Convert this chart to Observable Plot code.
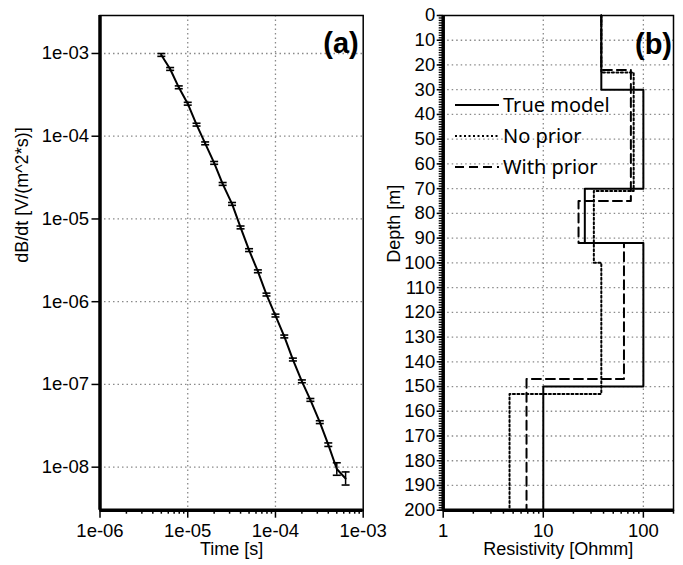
<!DOCTYPE html>
<html>
<head>
<meta charset="utf-8">
<script src="https://cdn.jsdelivr.net/npm/d3@7"></script>
<script src="https://cdn.jsdelivr.net/npm/@observablehq/plot@0.6"></script>
<style>
  body { margin: 0; background: white; }
  #wrap { position: relative; width: 683px; height: 565px; background: white; font-family: "Liberation Sans", Arial, sans-serif; }
  #a, #b, #legend { position: absolute; top: 0; }
  #a { left: 0; }
  #b { left: 370px; }
  svg { overflow: visible; }
</style>
</head>
<body>
<div id="wrap">
  <div id="a"></div>
  <div id="b"></div>
  <div id="legend"></div>
</div>
<script>
// ---------- Panel (a): dB/dt decay ----------
const times = [5.0e-6, 6.3e-6, 7.9e-6, 1.0e-5, 1.26e-5, 1.58e-5, 2.0e-5, 2.5e-5, 3.2e-5, 4.0e-5, 5.0e-5,
               6.3e-5, 7.9e-5, 1.0e-4, 1.26e-4, 1.58e-4, 2.0e-4, 2.5e-4, 3.2e-4, 4.0e-4, 5.0e-4, 6.3e-4];
const dbdt  = [9.6e-4, 6.5e-4, 3.9e-4, 2.47e-4, 1.38e-4, 8.2e-5, 4.76e-5, 2.65e-5, 1.52e-5, 7.9e-6, 4.2e-6,
               2.33e-6, 1.22e-6, 6.8e-7, 3.8e-7, 2.0e-7, 1.09e-7, 6.5e-8, 3.5e-8, 1.87e-8, 9.5e-9, 7.3e-9];
const relErr = [0.04, 0.04, 0.04, 0.04, 0.04, 0.04, 0.04, 0.04, 0.04, 0.04, 0.04,
                0.04, 0.04, 0.04, 0.04, 0.04, 0.04, 0.04, 0.04, 0.05, 0.19, 0.20];
const timeTicks = [1e-6, 1e-5, 1e-4, 1e-3];
const timeTickLabels = ["1e-06", "1e-05", "1e-04", "1e-03"];
const dbdtTicks = [1e-3, 1e-4, 1e-5, 1e-6, 1e-7, 1e-8];
const dbdtTickLabels = ["1e-03", "1e-04", "1e-05", "1e-06", "1e-07", "1e-08"];

// ---------- Panel (b): resistivity models ----------
const seriesNames = ["True model", "No prior", "With prior"];
const topsTrue = [0, 30, 70, 92, 150];
const rhoTrue  = [38, 100, 26, 100, 10];
const topsNoPrior = [0, 23, 71, 100, 153];
const rhoNoPrior  = [38, 80, 32, 38, 4.6];
const topsWithPrior = [0, 22, 75, 92, 147];
const rhoWithPrior  = [38, 75, 22.5, 64, 6.8];
const maxDepth = 200;
const rhoTicks = [1, 10, 100];
const rhoTickLabels = ["1", "10", "100"];
const depthTicks = d3.range(0, 201, 10);

const FONT = "'Liberation Sans', Arial, sans-serif";
const gridStyle = {stroke: "#8a8a8a", strokeOpacity: 1, strokeWidth: 1.3, strokeDasharray: "1.5,3"};

const dataA = times.map((t, i) => ({t, v: dbdt[i], lo: dbdt[i] / (1 + relErr[i]), hi: dbdt[i] * (1 + relErr[i])}));
const cap = {draw(ctx) { ctx.moveTo(-4, 0); ctx.lineTo(4, 0); }};

const yDomA = [Math.pow(10, -8.52), Math.pow(10, -2.541)];
const minorA = [];
for (let e = -6; e < -3; e++) for (let m = 2; m <= 9; m++) minorA.push(m * Math.pow(10, e));

const chartA = Plot.plot({
  width: 400, height: 565,
  marginLeft: 99.5, marginRight: 37.3, marginTop: 15, marginBottom: 55.3,
  style: {fontFamily: FONT, fontSize: "18.5px", background: "transparent", overflow: "visible"},
  x: {type: "log", domain: [1e-6, 1e-3]},
  y: {type: "log", domain: yDomA},
  marks: [
    Plot.gridX([1e-5, 1e-4], gridStyle),
    Plot.gridY(dbdtTicks, gridStyle),
    Plot.axisX(minorA, {tickSize: 4, strokeWidth: 1.5, tickFormat: () => "", label: null}),
    Plot.axisX(timeTicks, {tickSize: 8, strokeWidth: 1.5, tickPadding: 6, label: null,
      tickFormat: d => timeTickLabels[timeTicks.indexOf(d)], fill: "black"}),
    Plot.axisY(dbdtTicks, {tickSize: 8, strokeWidth: 1.5, tickPadding: 3, label: null,
      tickFormat: d => dbdtTickLabels[dbdtTicks.indexOf(d)], fill: "black"}),
    Plot.frame({strokeWidth: 1.5}),
    Plot.ruleX([1e-6], {strokeWidth: 3.5}),
    Plot.ruleY([yDomA[0]], {strokeWidth: 3.5}),
    Plot.line(dataA, {x: "t", y: "v", stroke: "black", strokeWidth: 2}),
    Plot.ruleX(dataA, {x: "t", y1: "lo", y2: "hi", stroke: "black", strokeWidth: 1.5}),
    Plot.dot(dataA, {x: "t", y: "lo", symbol: cap, fill: "none", stroke: "black", strokeWidth: 1.6}),
    Plot.dot(dataA, {x: "t", y: "hi", symbol: cap, fill: "none", stroke: "black", strokeWidth: 1.6}),
    Plot.text(["Time [s]"], {frameAnchor: "bottom", dy: 45, fontSize: 18, fill: "black"}),
    Plot.text(["dB/dt [V/(m^2*s)]"], {frameAnchor: "left", dx: -78, rotate: -90, fontSize: 18, fill: "black"}),
    Plot.text(["(a)"], {frameAnchor: "top-right", dx: -4.5, dy: 17, textAnchor: "end", fontSize: 29, fontWeight: "bold", fill: "black"})
  ]
});
document.getElementById("a").append(chartA);

// Build step profiles
function steps(tops, rho, name) {
  const pts = [];
  tops.forEach((top, i) => {
    const bottom = i + 1 < tops.length ? tops[i + 1] : maxDepth;
    pts.push({rho: rho[i], depth: top, name});
    pts.push({rho: rho[i], depth: bottom, name});
  });
  return pts;
}
const profTrue = steps(topsTrue, rhoTrue, seriesNames[0]);
const profNo = steps(topsNoPrior, rhoNoPrior, seriesNames[1]);
const profWith = steps(topsWithPrior, rhoWithPrior, seriesNames[2]);

const minorB = [];
for (let e = 0; e < 3; e++) for (let m = 2; m <= 9; m++) { const v = m * Math.pow(10, e); if (v <= 200) minorB.push(v); }

const chartB = Plot.plot({
  width: 313, height: 565,
  marginLeft: 72.7, marginRight: 10, marginTop: 15, marginBottom: 55.3,
  style: {fontFamily: FONT, fontSize: "18.5px", background: "transparent", overflow: "visible"},
  x: {type: "log", domain: [1, 200]},
  y: {domain: [0, maxDepth], reverse: true},
  marks: [
    Plot.gridX([10, 100], gridStyle),
    Plot.gridY(depthTicks.filter(d => d > 0 && d < 200), gridStyle),
    Plot.axisX(minorB, {tickSize: 4, strokeWidth: 1.5, tickFormat: () => "", label: null}),
    Plot.axisX(rhoTicks, {tickSize: 8, strokeWidth: 1.5, tickPadding: 6, label: null,
      tickFormat: d => rhoTickLabels[rhoTicks.indexOf(d)], fill: "black"}),
    Plot.axisY(d3.range(0, 201, 1), {tickSize: 4, strokeWidth: 1.3, tickFormat: () => "", label: null}),
    Plot.axisY(depthTicks, {tickSize: 6, strokeWidth: 1.5, tickPadding: 2, label: null, fill: "black"}),
    Plot.frame({strokeWidth: 1.5}),
    Plot.ruleX([1], {strokeWidth: 3.5}),
    Plot.ruleY([maxDepth], {strokeWidth: 3.5}),
    Plot.line(profNo, {x: "rho", y: "depth", stroke: "black", strokeWidth: 2, strokeDasharray: "2,2.5"}),
    Plot.line(profWith, {x: "rho", y: "depth", stroke: "black", strokeWidth: 2, strokeDasharray: "9,5"}),
    Plot.line(profTrue, {x: "rho", y: "depth", stroke: "black", strokeWidth: 2}),
    Plot.text(["Resistivity [Ohmm]"], {frameAnchor: "bottom", dy: 45, fontSize: 18, fill: "black"}),
    Plot.text(["Depth [m]"], {frameAnchor: "left", dx: -49, rotate: -90, fontSize: 18, fill: "black"}),
    Plot.text(["(b)"], {frameAnchor: "top-right", dx: -1.5, dy: 17.5, textAnchor: "end", fontSize: 29, fontWeight: "bold", fill: "black"})
  ]
});
document.getElementById("b").append(chartB);

// Legend inside panel (b)
const dashes = [null, "2,2.5", "9,5"];
const leg = d3.select("#legend").style("left", "450px").style("top", "90px")
  .append("svg").attr("width", 180).attr("height", 95).style("overflow", "visible");
seriesNames.forEach((name, i) => {
  const y = 15 + i * 31;
  leg.append("line").attr("x1", 5).attr("x2", 49).attr("y1", y).attr("y2", y)
    .attr("stroke", "black").attr("stroke-width", 2).attr("stroke-dasharray", dashes[i]);
  leg.append("text").attr("x", 53).attr("y", y).attr("dy", "0.36em")
    .attr("font-family", "'Noto Sans', 'Liberation Sans', sans-serif").attr("font-size", 20)
    .attr("fill", "black").text(name);
});
</script>
</body>
</html>
